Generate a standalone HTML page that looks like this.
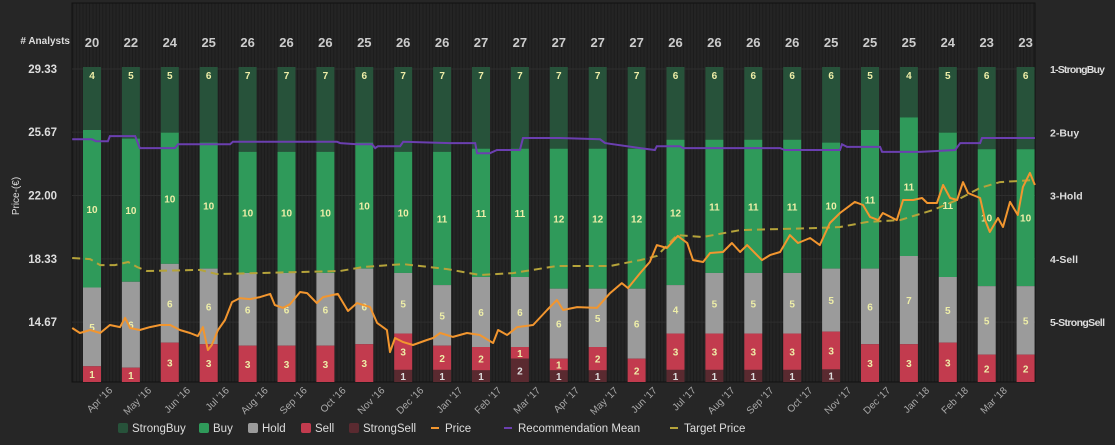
<!DOCTYPE html>
<html><head><meta charset="utf-8"><style>
html,body{margin:0;padding:0;background:#262626;width:1115px;height:445px;overflow:hidden}
svg{display:block;font-family:"Liberation Sans",sans-serif}
</style></head><body>
<svg id="c" width="1115" height="445">
<defs><pattern id="vg" width="3.3" height="10" patternUnits="userSpaceOnUse"><rect width="3.3" height="10" fill="#242424"/><rect width="1" height="10" fill="#1c1c1c"/></pattern></defs>
<rect x="0" y="0" width="1115" height="445" fill="#262626"/>
<rect x="72" y="3" width="963" height="379" fill="url(#vg)" stroke="#111"/>
<text x="70" y="44" text-anchor="end" font-size="10" font-weight="bold" fill="#ddd"># Analysts</text>
<text transform="translate(19,196) rotate(-90)" text-anchor="middle" font-size="10" fill="#ddd">Price-(€)</text>
</svg>
<script>
const categories=["Apr '16","May '16","Jun '16","Jul '16","Aug '16","Sep '16","Oct '16","Nov '16","Dec '16","Jan '17","Feb '17","Mar '17","Apr '17","May '17","Jun '17","Jul '17","Aug '17","Sep '17","Oct '17","Nov '17","Dec '17","Jan '18","Feb '18","Mar '18"];
const strongBuy=[4,5,5,6,7,7,7,6,7,7,7,7,7,7,7,6,6,6,6,6,5,4,5,6,6];
const buy=[10,10,10,10,10,10,10,10,10,11,11,11,12,12,12,12,11,11,11,10,11,11,11,10,10];
const hold=[5,6,6,6,6,6,6,6,5,5,6,6,6,5,6,4,5,5,5,5,6,7,5,5,5];
const sell=[1,1,3,3,3,3,3,3,3,2,2,1,1,2,2,3,3,3,3,3,3,3,3,2,2];
const strongSell=[0,0,0,0,0,0,0,0,1,1,1,2,1,1,0,1,1,1,1,1,0,0,0,0,0];
const priceTicks=["29.33","25.67","22.00","18.33","14.67"];
const recTicks=["1-StrongBuy","2-Buy","3-Hold","4-Sell","5-StrongSell"];
const priceT=[-0.51,-0.31,-0.05,0.21,0.46,0.72,0.85,0.98,1.23,1.49,1.75,2.01,2.26,2.52,2.72,2.85,2.98,3.08,3.24,3.42,3.6,3.8,4.06,4.32,4.58,4.7,4.91,5.09,5.35,5.53,5.78,5.94,6.32,6.58,6.81,7.15,7.33,7.58,7.66,7.79,8.0,8.25,8.61,8.77,8.95,9.28,9.64,9.97,10.31,10.44,10.67,10.93,11.34,11.7,11.95,12.11,12.47,12.98,13.32,13.62,13.78,14.09,14.34,14.52,14.78,15.06,15.3,15.45,15.71,15.89,16.22,16.45,16.66,16.84,17.22,17.43,17.69,17.94,18.15,18.46,18.71,18.97,19.23,19.61,19.82,20.0,20.21,20.33,20.69,20.85,21.11,21.34,21.47,21.72,21.88,22.06,22.24,22.39,22.52,22.83,22.96,23.08,23.29,23.42,23.6,23.8,23.93,24.11,24.24];
const priceV=[14.33,14.04,14.21,14.04,14.5,14.38,14.91,14.33,14.21,14.38,14.5,14.5,14.21,14.04,13.86,14.38,13.05,13.34,14.21,14.79,15.83,16.06,16.0,16.12,16.3,15.66,15.49,15.7,16.41,16.35,15.77,16.12,16.3,15.31,15.77,15.54,14.62,14.21,12.93,13.75,13.51,13.34,13.63,13.75,14.04,13.81,14.04,13.92,13.46,14.21,13.92,14.38,14.5,15.37,15.95,15.37,15.54,15.49,16.35,16.93,16.64,17.51,18.15,19.13,18.96,19.66,19.25,18.26,18.15,18.67,18.73,19.25,18.73,19.13,18.26,18.55,18.73,19.71,19.25,19.54,19.13,20.41,20.99,21.63,21.45,20.76,20.58,20.99,20.58,21.74,21.74,21.86,21.57,21.57,22.61,21.86,21.74,22.78,22.15,21.86,20.58,19.89,20.7,20.18,21.63,20.87,22.49,23.31,22.61];
const targetT=[-0.51,-0.05,0.21,0.59,0.93,1.16,1.41,2.78,3.21,4.24,5.35,6.38,6.97,8.0,9.13,9.97,10.82,11.95,13.32,14.09,14.52,15.04,15.71,16.66,18.64,19.23,19.92,20.77,21.62,22.24,22.83,23.34,24.24];
const targetV=[18.38,18.32,17.97,17.97,18.15,17.86,17.63,17.69,17.45,17.51,17.57,17.63,17.86,18.03,17.74,17.4,17.51,17.92,17.92,18.26,18.5,19.71,19.6,20.0,20.12,20.18,20.47,20.58,21.16,21.74,22.44,22.78,22.9];
const recT=[-0.51,0,0.1,0.41,0.46,1.11,1.23,2.13,2.21,3.55,3.62,6.3,6.38,6.81,7.2,7.28,7.35,7.92,8.0,9.2,9.85,9.9,10.23,10.41,11.0,11.08,12.03,13.06,13.19,14.09,14.47,14.52,15.11,15.19,17.69,17.81,19.23,19.28,19.41,20.26,20.31,21.29,22.19,22.32,22.83,22.88,24.24];
const recV=[2.11,2.11,2.14,2.14,2.06,2.06,2.25,2.25,2.19,2.19,2.15,2.15,2.17,2.19,2.19,2.25,2.22,2.22,2.15,2.17,2.17,2.33,2.33,2.28,2.28,2.09,2.09,2.11,2.17,2.25,2.28,2.22,2.22,2.25,2.25,2.28,2.28,2.19,2.23,2.23,2.31,2.31,2.28,2.17,2.17,2.09,2.09];

const svg=document.getElementById('c');const NS='http://www.w3.org/2000/svg';
function mk(tag,attrs,name,parent){const e=document.createElementNS(NS,tag);for(const k in attrs)e.setAttribute(k,attrs[k]);


(parent||svg).appendChild(e);return e;}
const xT=t=>92+38.9*t;
const yP=p=>69+(29.33-p)/3.6667*63.3;
const yR=r=>69+(r-1)*63.3;
const barTop=67,barBot=382,barW=18;
priceTicks.forEach((s,i)=>{const y=yP(parseFloat(s));
mk('line',{x1:72,x2:1035,y1:y,y2:y,stroke:'#2e2e2e','stroke-width':1},'gridline');
const t=mk('text',{x:57,y:y+4,'text-anchor':'end','font-size':11.5,'font-weight':'bold',fill:'#ddd'},'price-tick-label');t.textContent=s;});
recTicks.forEach((s,i)=>{const t=mk('text',{x:1050,y:yR(i+1)+4,'font-size':10.5,'font-weight':'bold',fill:'#ddd',textLength:s.length>8?55:null},'rec-tick-label');if(s.length<=8)t.removeAttribute('textLength');t.textContent=s;});
const colors=['#27523a','#2f9a5a','#9b9b9b','#c23b4e','#5a2a30'];
const series=[strongBuy,buy,hold,sell,strongSell];
for(let i=0;i<strongBuy.length;i++){
 const tot=series.reduce((a,s)=>a+s[i],0);const cx=xT(i);let y=barTop;
 const at=mk('text',{x:cx,y:47,'text-anchor':'middle','font-size':13,'font-weight':'bold',fill:'#ccc'},'analyst-count');at.textContent=tot;
 series.forEach((s,k)=>{const v=s[i];if(!v)return;const h=v/tot*(barBot-barTop);
  mk('rect',{x:cx-barW/2,y:y,width:barW,height:h,fill:colors[k]},'bar-segment');
  const ty=k===0?y+12:y+h/2+4;
  const tl=mk('text',{x:cx,y:ty,'text-anchor':'middle','font-size':10,'font-weight':'bold',fill:k===4?'#ddd':'#eeeea8'},'segment-label');tl.textContent=v;
  y+=h;});
}
categories.forEach((c,i)=>{const x=xT(i)+21,y=391;
 const t=mk('text',{x:x,y:y,'text-anchor':'end','font-size':10,fill:'#aaa',transform:`rotate(-45 ${x} ${y})`},'x-tick-label');t.textContent=c;});
function path(ts,vs,fy){return ts.map((t,i)=>(i?'L':'M')+xT(t).toFixed(1)+' '+fy(vs[i]).toFixed(1)).join(' ');}
mk('path',{d:path(targetT,targetV,yP),fill:'none',stroke:'#b5a33a','stroke-width':2,'stroke-dasharray':'8 5'},'target-price-line');
mk('path',{d:path(recT,recV,yR),fill:'none',stroke:'#6b3fb0','stroke-width':2},'recommendation-mean-line');
mk('path',{d:path(priceT,priceV,yP),fill:'none',stroke:'#f2962f','stroke-width':2,'stroke-linejoin':'round'},'price-line');
const leg=[['StrongBuy',118,'sw',colors[0]],['Buy',199,'sw',colors[1]],['Hold',248,'sw',colors[2]],['Sell',301,'sw',colors[3]],['StrongSell',349,'sw',colors[4]],['Price',431,'ln','#f2962f'],['Recommendation Mean',504,'ln','#6b3fb0'],['Target Price',670,'ln','#b5a33a']];
leg.forEach(l=>{const g=mk('g',{},'legend-entry');
 if(l[2]==='sw')mk('rect',{x:l[1],y:423,width:10,height:10,rx:2,fill:l[3]},'legend-swatch',g);
 else mk('rect',{x:l[1],y:427,width:8,height:2,fill:l[3]},'legend-line',g);
 const t=mk('text',{x:l[1]+14,y:432,'font-size':11.5,fill:'#ddd'},'legend-text',g);t.textContent=l[0];});
</script>
</body></html>
